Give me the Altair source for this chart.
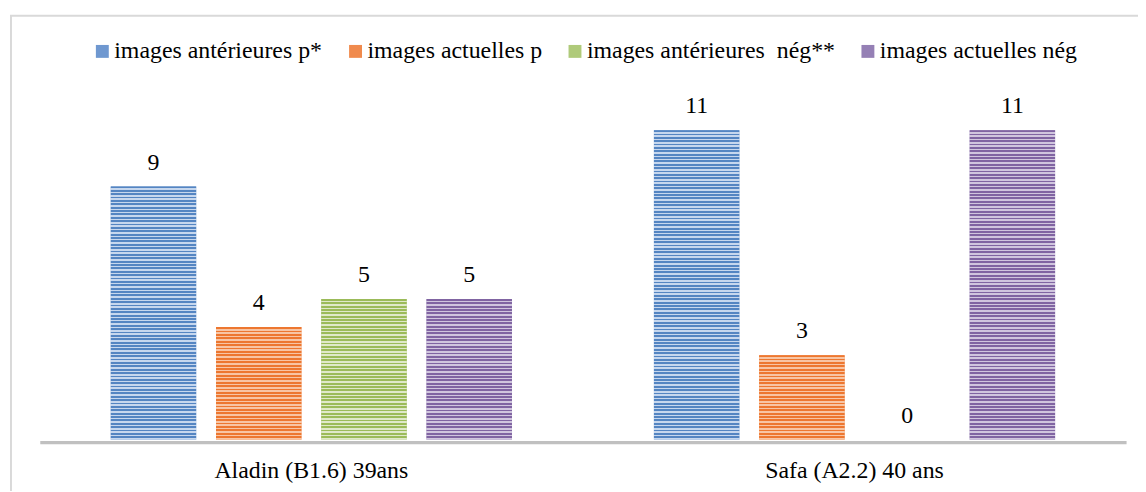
import altair as alt
import pandas as pd

categories = ["Aladin (B1.6) 39ans", "Safa (A2.2) 40 ans"]
series = ["images antérieures p*", "images actuelles p",
          "images antérieures\u00a0 nég**", "images actuelles nég"]
values_aladin = [9, 4, 5, 5]
values_safa = [11, 3, 0, 11]

dark = ["#5485c2", "#ed7730", "#9bbb59", "#8064a2"]
light = ["#c6d7ee", "#f8c5a4", "#dfe9c9", "#d0c5de"]
mid = ["#6f98d0", "#f08a4d", "#afca7a", "#9580b5"]

rows = []
for c, vals in zip(categories, [values_aladin, values_safa]):
    for s, v in zip(series, vals):
        rows.append({"cat": c, "serie": s, "val": v})
df = pd.DataFrame(rows)

FONT = "Liberation Serif"
W, H = 1094, 340
YMAX = 12
PERIOD = 3.4

x_enc = alt.X("cat:N", sort=categories, title=None,
              scale=alt.Scale(domain=categories, paddingInner=0, paddingOuter=0),
              axis=alt.Axis(labelAngle=0, ticks=False, domainColor="#c0c0c0",
                            domainWidth=3.5, offset=2.5, labelFontSize=24,
                            labelFont=FONT, labelColor="#000000", labelLimit=0,
                            labelBaseline="alphabetic", labelPadding=36))
xo_enc = alt.XOffset("serie:N", sort=series,
                     scale=alt.Scale(domain=series, paddingInner=0.1887, paddingOuter=0.6745))
y_enc = alt.Y("val:Q", title=None, scale=alt.Scale(domain=[0, YMAX]), axis=None)

base = alt.Chart(df).mark_bar().encode(
    x=x_enc, xOffset=xo_enc, y=y_enc,
    color=alt.Color("serie:N", sort=series,
                    scale=alt.Scale(domain=series, range=mid),
                    legend=alt.Legend(title=None, orient="none", direction="horizontal",
                                      legendX=51, legendY=-63, symbolType="square",
                                      symbolSize=169, symbolStrokeWidth=0,
                                      labelFontSize=24, labelFont=FONT, labelLimit=0,
                                      labelColor="#000000", labelOffset=0,
                                      columnPadding=21, padding=0, columns=4)),
)

layers = [base]
for c, vals in zip(categories, [values_aladin, values_safa]):
    for i, (s, v) in enumerate(zip(series, vals)):
        if v <= 0:
            continue
        h = v * H / YMAX
        n = max(1, round(h / PERIOD))
        stops = []
        for k in range(n):
            a = k / n
            b = (k + 0.55) / n
            e = (k + 1) / n
            stops += [alt.GradientStop(offset=a, color=dark[i]),
                      alt.GradientStop(offset=b, color=dark[i]),
                      alt.GradientStop(offset=b, color=light[i]),
                      alt.GradientStop(offset=e, color=light[i])]
        grad = alt.LinearGradient(gradient="linear", stops=stops, x1=0, x2=0, y1=0, y2=1)
        layers.append(
            alt.Chart(df).transform_filter(
                (alt.datum.cat == c) & (alt.datum.serie == s)
            ).mark_bar(fill=grad).encode(x=x_enc, xOffset=xo_enc, y=y_enc)
        )

labels = alt.Chart(df).mark_text(baseline="alphabetic", dy=-17, fontSize=24,
                                 font=FONT, color="#000000").encode(
    x=x_enc, xOffset=xo_enc, y=y_enc, text=alt.Text("val:Q"))
layers.append(labels)

frame = alt.Chart(pd.DataFrame({"k": [0]})).mark_rect(
    fill=None, stroke="#d9d9d9", strokeWidth=2).encode(
    x=alt.value(-29), x2=alt.value(1300), y=alt.value(-87), y2=alt.value(600))
layers.insert(0, frame)

chart = alt.layer(*layers).properties(
    width=W, height=H,
    autosize=alt.AutoSizeParams(type="none"),
    padding={"left": 32, "top": 93, "right": 12, "bottom": 50},
).configure(font=FONT, background="#ffffff").configure_view(stroke=None, strokeWidth=0)

chart.save("out.html", embed_options={"renderer": "svg", "actions": False})
